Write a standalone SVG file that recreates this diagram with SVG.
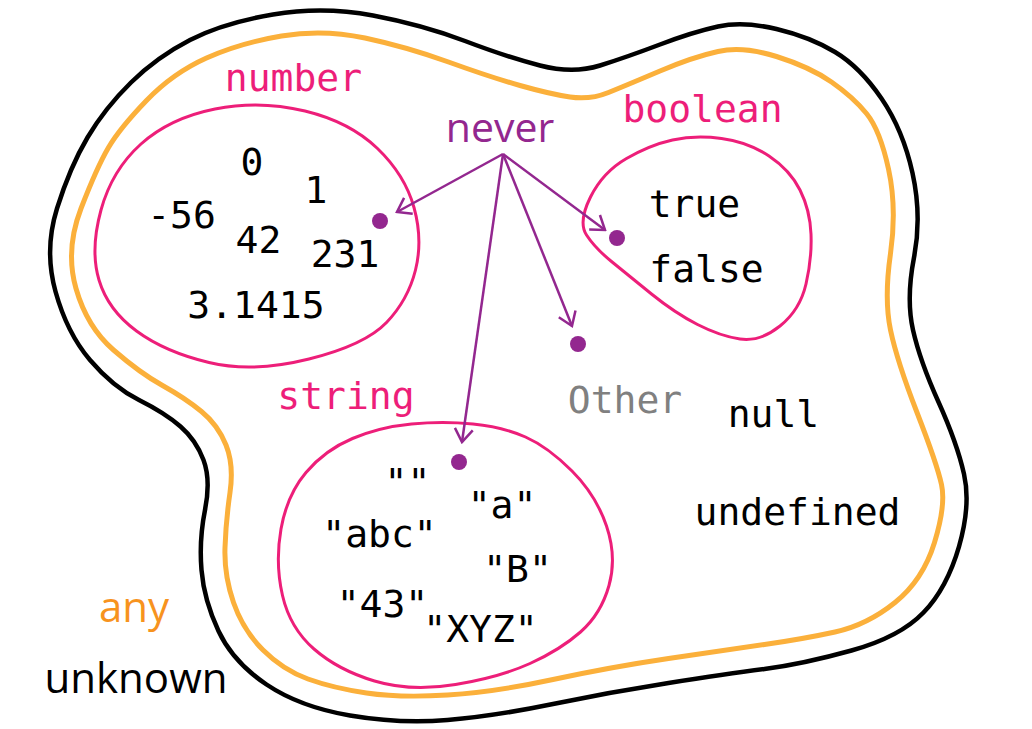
<svg xmlns="http://www.w3.org/2000/svg" width="1032" height="729" viewBox="0 0 1032 729">
<style>
.mono{font-family:"DejaVu Sans Mono","Liberation Mono",monospace;font-size:38px;text-anchor:middle}
.val{fill:#000}
.lbl{fill:#ED1E79}
.sans{font-family:"Open Sans","Noto Sans",sans-serif;font-size:42px;text-anchor:middle}
.set{fill:none;stroke:#ED1E79;stroke-width:3}
.arrow{stroke:#93278F;stroke-width:2.5;fill:none;marker-end:url(#arr)}
.dot{fill:#93278F}
</style>
<defs>
<marker id="arr" viewBox="-16 -11 18 22" refX="0" refY="0" markerWidth="18" markerHeight="22" markerUnits="userSpaceOnUse" orient="auto">
<path d="M-13,-9 L0,0 L-13,9" fill="none" stroke="#93278F" stroke-width="2.5"/>
</marker>
</defs>
<rect width="1032" height="729" fill="#fff"/>
<g id="unknown">
<path fill="none" stroke="#000" stroke-width="4.5" d="M273,14.5 Q323,6 373,15.5 Q423,25 465,41 Q507,57 540,65.5 Q573,74 600,65.5 Q627,57 660,44.5 Q693,32 718,26.5 Q743,21 776.5,29 Q810,37 835,52 Q860,67 881.5,98.5 Q903,130 912.5,173 Q922,216 914,257.5 Q906,299 913,330 Q920,361 938.5,402 Q957,443 964,474 Q971,505 959,546.5 Q947,588 923.5,612.5 Q900,637 851.5,650.5 Q803,664 764.5,669 Q726,674 668.5,683 Q611,692 553,704 Q495,716 447.5,720 Q400,724 350,715.5 Q300,707 266.5,684.5 Q233,662 218.5,631 Q204,600 201.5,570 Q199,540 205,510 Q211,480 203.5,460 Q196,440 180.5,426.5 Q165,413 139,400 Q113,387 90,360 Q67,333 55.5,291.5 Q44,250 57,208.5 Q70,167 87.5,137.5 Q105,108 131,82.5 Q157,57 190,40 Q223,23 273,14.5 Z"/>
<text class="sans" x="136" y="693" fill="#000">unknown</text>
</g>
<g id="any">
<path fill="none" stroke="#FBB03B" stroke-width="5" d="M281.5,36 Q323,29 365,38 Q407,47 448.5,62 Q490,77 520,85.5 Q550,94 570,97 Q590,100 608.5,92.5 Q627,85 660,71 Q693,57 718,51.5 Q743,46 776.5,56.5 Q810,67 831.5,82 Q853,97 866.5,113.5 Q880,130 888.5,169 Q897,208 890.5,253.5 Q884,299 890.5,330 Q897,361 917,412.5 Q937,464 941.5,484.5 Q946,505 934.5,542.5 Q923,580 895,602.5 Q867,625 835,632 Q803,639 764.5,644.5 Q726,650 668.5,658.5 Q611,667 553,679.5 Q495,692 447.5,695 Q400,698 366.5,693 Q333,688 308,679 Q283,670 263,650 Q243,630 233.5,602.5 Q224,575 225,547.5 Q226,520 230,492.5 Q234,465 226,445 Q218,425 201.5,411.5 Q185,398 162.5,385.5 Q140,373 113.5,350 Q87,327 76,288.5 Q65,250 81,208.5 Q97,167 108.5,147.5 Q120,128 146.5,100.5 Q173,73 206.5,58 Q240,43 281.5,36 Z"/>
<text class="sans" x="134" y="622" fill="#F7931E">any</text>
</g>
<g id="number">
<path class="set" d="M99,280 Q90,250 101,210 Q112,170 141,144 Q170,118 215,109 Q260,100 305,111 Q350,122 377.5,148.5 Q405,175 414,207.5 Q423,240 415.5,270 Q408,300 386.5,322.5 Q365,345 309,359 Q253,373 209,362.5 Q165,352 136.5,331 Q108,310 99,280 Z"/>
<text class="mono lbl" x="293.5" y="91">number</text>
<text class="mono val" x="252" y="175">0</text>
<text class="mono val" x="316" y="203">1</text>
<text class="mono val" x="181.5" y="228">-56</text>
<text class="mono val" x="258.5" y="253">42</text>
<text class="mono val" x="345" y="267">231</text>
<text class="mono val" x="256" y="318">3.1415</text>
<circle class="dot" cx="380" cy="221" r="8"/>
</g>
<g id="boolean">
<path class="set" d="M586.5,235 Q578,222 590.5,197 Q603,172 626.5,158.5 Q650,145 672.5,140 Q695,135 721.5,138.5 Q748,142 769,156 Q790,170 800,190 Q810,210 811,234 Q812,258 806,284 Q800,310 780,326 Q760,342 740,339 Q720,336 697.5,324.5 Q675,313 651.5,294 Q628,275 611.5,261.5 Q595,248 586.5,235 Z"/>
<text class="mono lbl" x="702.5" y="122">boolean</text>
<text class="mono val" x="694.5" y="217">true</text>
<text class="mono val" x="706.5" y="282">false</text>
<circle class="dot" cx="617" cy="238" r="8"/>
</g>
<g id="string">
<path class="set" d="M282.5,595.5 Q275,563 281,529 Q287,495 306,472.5 Q325,450 352.5,438.5 Q380,427 411.5,424 Q443,421 473,424 Q503,427 525.5,437 Q548,447 572,471 Q596,495 606.5,526 Q617,557 609,585.5 Q601,614 580.5,632 Q560,650 530,663.5 Q500,677 455.5,684.5 Q411,692 374.5,681 Q338,670 314,649 Q290,628 282.5,595.5 Z"/>
<text class="mono lbl" x="346" y="409">string</text>
<text class="mono val" x="407.5" y="495">""</text>
<text class="mono val" x="502" y="518">"a"</text>
<text class="mono val" x="379.5" y="547">"abc"</text>
<text class="mono val" x="517.5" y="582">"B"</text>
<text class="mono val" x="382.5" y="617">"43"</text>
<text class="mono val" x="480.5" y="642">"XYZ"</text>
<circle class="dot" cx="459" cy="462" r="8"/>
</g>
<g id="other">
<text class="mono" x="625" y="413" fill="#808080">Other</text>
<circle class="dot" cx="578" cy="344" r="8"/>
</g>
<g id="null"><text class="mono val" x="773.5" y="427">null</text></g>
<g id="undefined"><text class="mono val" x="797.5" y="525">undefined</text></g>
<g id="never"><text class="sans" x="500" y="142" fill="#93278F" style="font-size:41px">never</text></g>
<g id="connectors">
<line class="arrow" x1="503" y1="154" x2="397" y2="212"/>
<line class="arrow" x1="503" y1="154" x2="605" y2="230"/>
<line class="arrow" x1="503" y1="154" x2="572" y2="326"/>
<line class="arrow" x1="503" y1="154" x2="462" y2="442"/>
</g>
</svg>
